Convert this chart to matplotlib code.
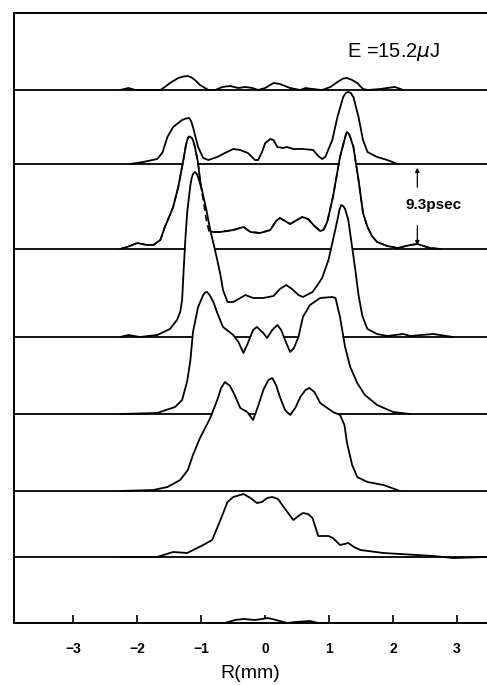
import matplotlib
matplotlib.use("Agg")
import matplotlib.pyplot as plt
import numpy as np

plt.rcParams['font.family'] = ['Liberation Sans', 'DejaVu Sans']

# Vertical offsets of the stacked profiles (arbitrary units), top (back) to bottom (front)
offsets = [533, 459, 374, 286, 209, 132, 66, 0]

# Profile 1 (top)
r1 = [-2.27, -2.14, -2.03, -1.64, -1.57, -1.49, -1.36, -1.28, -1.21, -1.15, -1.10, -1.02, -0.89, -0.78,
      -0.67, -0.55, -0.42, -0.31, -0.20, -0.11, 0.00, 0.13, 0.23, 0.39, 0.55, 0.63, 0.74, 0.89, 1.02,
      1.13, 1.22, 1.28, 1.36, 1.44, 1.53, 1.61, 1.80, 1.91, 2.03, 2.16]
h1 = [0, 2, 0, 0, 3, 7, 12, 13.5, 14, 12.5, 10, 5, 0, 0, 3, 4, 2, 3, 2, 0, 2, 7, 6, 2, 0, 2, 1, 0, 3,
      8, 11.5, 12, 10, 7, 1, 0, 1, 2, 3, 0]

# Profile 2
r2 = [-2.11, -1.91, -1.69, -1.61, -1.57, -1.53, -1.44, -1.30, -1.24, -1.19, -1.16, -1.13, -1.05, -0.97,
      -0.89, -0.75, -0.63, -0.50, -0.39, -0.27, -0.16, -0.11, -0.05, 0.00, 0.08, 0.13, 0.19, 0.28,
      0.34, 0.44, 0.59, 0.75, 0.83, 0.89, 0.94, 1.05, 1.13, 1.22, 1.26, 1.30, 1.34, 1.38, 1.46, 1.53,
      1.60, 1.75, 1.91, 2.07]
h2 = [0, 2, 5, 11, 19, 27, 37, 44, 45.5, 46, 43, 37, 17, 6, 4, 7, 11, 15, 14, 11, 4, 4, 12, 21, 25,
      24, 17, 16, 17, 15, 15, 14, 8, 5, 7, 24, 47, 67, 71, 72, 71, 67, 47, 24, 12, 7, 4, 0]

# Profile 3
r3 = [-2.27, -2.16, -2.00, -1.85, -1.75, -1.64, -1.57, -1.49, -1.44, -1.36, -1.28, -1.24, -1.21, -1.19,
      -1.17, -1.15, -1.13, -1.10, -1.05, -1.02, -0.97, -0.92, -0.88, -0.81, -0.70, -0.50, -0.34, -0.23,
      -0.08, 0.08, 0.17, 0.23, 0.31, 0.39, 0.47, 0.58, 0.67, 0.77, 0.86, 0.91, 0.97, 1.06, 1.17, 1.24,
      1.26, 1.28, 1.31, 1.33, 1.38, 1.46, 1.53, 1.60, 1.67, 1.75, 1.91, 2.07, 2.27, 2.38, 2.58, 2.74]
h3 = [0, 2, 6, 4, 4, 9, 22, 34, 42, 62, 89, 104, 111, 112.5, 112, 111, 109, 102, 86, 69, 49, 29, 18,
      17, 17, 19, 22, 17, 16, 19, 28, 31, 28, 25, 28, 32, 30, 23, 18, 19, 27, 52, 92, 109, 114, 117,
      115, 112, 102, 69, 36, 22, 13, 7, 3, 1, 4, 5, 1, 0]

# Profile 4
r4 = [-2.27, -2.14, -1.96, -1.69, -1.49, -1.38, -1.33, -1.30, -1.28, -1.25, -1.22, -1.17, -1.15, -1.13,
      -1.10, -1.07, -1.05, -0.99, -0.92, -0.86, -0.80, -0.75, -0.70, -0.66, -0.59, -0.50, -0.39, -0.31,
      -0.19, -0.03, 0.13, 0.23, 0.33, 0.42, 0.52, 0.59, 0.74, 0.83, 0.89, 0.99, 1.06, 1.13, 1.16, 1.19,
      1.22, 1.25, 1.30, 1.36, 1.41, 1.46, 1.52, 1.60, 1.75, 1.91, 2.16, 2.27, 2.63, 2.94]
h4 = [0, 2, 0, 2, 8, 17, 25, 37, 62, 97, 125, 152, 159, 163, 165, 163, 160, 147, 127, 107, 91, 77, 62,
      47, 35, 35, 39, 42, 39, 39, 41, 48, 52, 48, 42, 40, 45, 53, 59, 77, 97, 117, 127, 132, 131, 128,
      117, 90, 67, 42, 21, 8, 3, 1, 3, 1, 3, 0]

# Profile 5
r5 = [-2.27, -1.69, -1.41, -1.30, -1.22, -1.17, -1.13, -1.05, -0.97, -0.94, -0.91, -0.87, -0.81, -0.75,
      -0.66, -0.50, -0.42, -0.34, -0.27, -0.19, -0.13, -0.03, 0.03, 0.11, 0.19, 0.25, 0.31, 0.39, 0.45,
      0.52, 0.59, 0.70, 0.86, 1.05, 1.10, 1.17, 1.25, 1.33, 1.44, 1.56, 1.75, 2.00, 2.27]
h5 = [0, 1, 7, 14, 33, 54, 82, 107, 119, 121.5, 122, 119, 112, 101, 87, 79, 72, 61, 71, 84, 87, 81,
      76, 84, 89, 84, 74, 62, 66, 77, 97, 109, 116, 117, 116, 97, 67, 47, 31, 19, 9, 2, 0]

# Profile 6
r6 = [-2.27, -1.75, -1.53, -1.33, -1.21, -1.13, -1.02, -0.86, -0.75, -0.69, -0.63, -0.55, -0.47, -0.39,
      -0.28, -0.19, -0.11, -0.03, 0.05, 0.11, 0.17, 0.23, 0.31, 0.39, 0.47, 0.55, 0.63, 0.69, 0.77,
      0.86, 1.06, 1.17, 1.24, 1.28, 1.36, 1.44, 1.60, 1.85, 2.11]
h6 = [0, 1, 4, 11, 21, 36, 53, 73, 91, 103, 109, 105, 95, 83, 79, 71, 85, 101, 111, 113, 106, 94, 81,
      76, 83, 94, 101, 103, 99, 88, 79, 76, 66, 48, 26, 14, 9, 6, 0]

# Profile 7
r7 = [-2.27, -1.69, -1.44, -1.22, -0.97, -0.83, -0.70, -0.59, -0.50, -0.34, -0.23, -0.13, -0.05, 0.03,
      0.11, 0.20, 0.30, 0.44, 0.52, 0.59, 0.67, 0.74, 0.80, 0.83, 0.99, 1.06, 1.17, 1.24, 1.30, 1.39,
      1.49, 1.85, 2.63, 2.94, 3.47]
h7 = [0, 0, 5, 4, 12, 17, 37, 55, 60, 63, 59, 54, 55, 59, 60, 58, 49, 37, 41, 44, 43, 39, 27, 21, 21,
      19, 12, 13, 14, 10, 7, 4, 1, -1, 0]

# Profile 8 (bottom)
r8 = [-0.63, -0.47, -0.34, -0.16, -0.05, 0.03, 0.11, 0.23, 0.34, 0.47, 0.70, 0.83]
h8 = [0, 3, 4, 3, 4, 5, 4, 2, 0, 1, 2, 0]

profiles_r = [r1, r2, r3, r4, r5, r6, r7, r8]
profiles_h = [h1, h2, h3, h4, h5, h6, h7, h8]

xticks = [-3, -2, -1, 0, 1, 2, 3]
xlabel = "R(mm)"
energy_label = r"E =15.2$\mu$J"
delay_label = "9.3psec"

W, H = 487, 685
fig = plt.figure(figsize=(W / 100, H / 100), dpi=100)
left_px, top_px, bottom_px = 14, 13, 623
ax = fig.add_axes([left_px / W, 1 - bottom_px / H, 1 - left_px / W, (bottom_px - top_px) / H])
ax.set_xlim(-3.93, 3.47)
ax.set_ylim(0, 610)

lw = 1.3
for i, (r, h) in enumerate(zip(profiles_r, profiles_h)):
    off = offsets[i]
    r = np.asarray(r, float)
    y = off + np.asarray(h, float)
    ax.fill_between(r, off, y, color='white', lw=0, zorder=2 + 2 * i)
    ax.axhline(off, color='black', lw=lw, zorder=3 + 2 * i)
    ax.plot(r, y, color='black', lw=lw, zorder=3 + 2 * i,
            solid_capstyle='round', solid_joinstyle='round')
    if i == 2:
        # hidden part of this profile shown dashed
        ax.plot(r, y, color='black', lw=lw * 0.9, ls=(0, (4, 2.5)), zorder=40)

# delay marker
xa = 2.38
ax.annotate("", xy=(xa, offsets[1] - 1), xytext=(xa, offsets[1] - 26),
            arrowprops=dict(arrowstyle='-|>', color='black', lw=0.9, mutation_scale=6), zorder=50)
ax.annotate("", xy=(xa, offsets[2] + 1), xytext=(xa, offsets[2] + 26),
            arrowprops=dict(arrowstyle='-|>', color='black', lw=0.9, mutation_scale=6), zorder=50)
ax.text(2.64, 418, delay_label, ha='center', va='center', fontsize=11, fontweight='bold', zorder=50)
ax.text(1.28, 571, energy_label, ha='left', va='center', fontsize=14.5, zorder=50)

for s in ['left', 'top', 'bottom']:
    ax.spines[s].set_linewidth(1.4)
    ax.spines[s].set_zorder(60)
ax.spines['right'].set_visible(False)
ax.set_yticks([])
ax.set_xticks(xticks)
ax.set_xticklabels([f"{t}".replace('-', '\u2212') for t in xticks], fontsize=10, fontweight='bold')
ax.tick_params(axis='x', direction='in', length=6, width=1.2, pad=14)
ax.set_xlabel(xlabel, fontsize=14, labelpad=6.5)

fig.savefig("out.png", dpi=100)
